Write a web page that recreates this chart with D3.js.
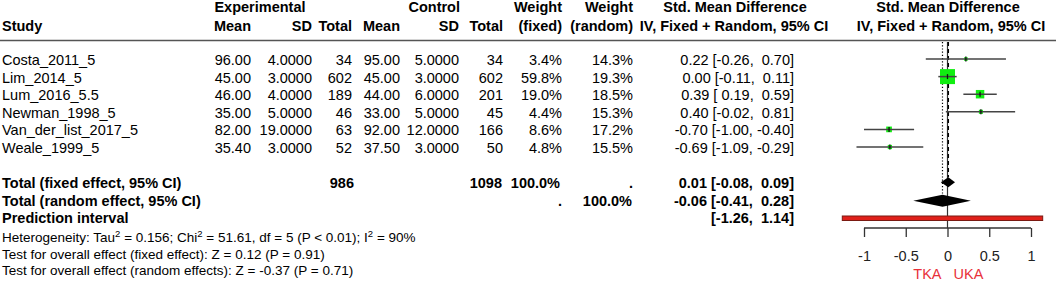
<!DOCTYPE html>
<html>
<head>
<meta charset="utf-8">
<script src="https://cdn.jsdelivr.net/npm/d3@7"></script>
<style>
  body { margin: 0; background: #fff; }
  text { font-family: 'Liberation Sans', Arial, sans-serif; white-space: pre; }
</style>
</head>
<body>
<div id="app"></div>
<script>
'use strict'
const width = 1056
const height = 281

// study rows
const studies = ['Costa_2011_5', 'Lim_2014_5', 'Lum_2016_5.5', 'Newman_1998_5', 'Van_der_list_2017_5', 'Weale_1999_5']
const expMean = [96.00, 45.00, 46.00, 35.00, 82.00, 35.40]
const expSD = [4, 3, 4, 5, 19, 3]
const expN = [34, 602, 189, 46, 63, 52]
const ctlMean = [95.00, 45.00, 44.00, 33.00, 92.00, 37.50]
const ctlSD = [5, 3, 6, 5, 12, 3]
const ctlN = [34, 602, 201, 45, 166, 50]
const weightFixed = [3.4, 59.8, 19.0, 4.4, 8.6, 4.8]
const weightRandom = [14.3, 19.3, 18.5, 15.3, 17.2, 15.5]
const smd = [0.22, 0.00, 0.39, 0.40, -0.70, -0.69]
const lower = [-0.26, -0.11, 0.19, -0.02, -1.00, -1.09]
const upper = [0.70, 0.11, 0.59, 0.81, -0.40, -0.29]

// pooled rows
const pooledLabels = ['Total (fixed effect, 95% CI)', 'Total (random effect, 95% CI)']
const pooledEst = [0.01, -0.06]
const pooledLower = [-0.08, -0.41]
const pooledUpper = [0.09, 0.28]
const totalExpN = 986
const totalCtlN = 1098
const predInterval = [-1.26, 1.14]

const axisTicks = [-1, -0.5, 0, 0.5, 1]
const sideLabels = ['TKA', 'UKA']
const footer = [
  [['Heterogeneity: Tau'], ['2', 'sup'], [' = 0.156; Chi'], ['2', 'sup'], [' = 51.61, df = 5 (P < 0.01); I'], ['2', 'sup'], [' = 90%']],
  [['Test for overall effect (fixed effect): Z = 0.12 (P = 0.91)']],
  [['Test for overall effect (random effects): Z = -0.37 (P = 0.71)']]
]

const svg = d3.select('#app').append('svg')
  .attr('width', width)
  .attr('height', height)

/*
 * Scales
 */
const xScale = d3.scaleLinear().domain([-1, 1]).range([864, 1031])
const rowY = d3.scaleLinear().domain([0, 1]).range([59, 76.6])
const sqSize = d3.scaleSqrt().domain([0, 59.8]).range([0, 15])

// R prints a plain hyphen, not the unicode minus d3 uses
const hy = s => String(s).replace(/\u2212/g, '-')
const f2 = v => hy(d3.format('.2f')(v))
const f4 = v => hy(d3.format('.4f')(v))
const pct = v => d3.format('.1f')(v) + '%'
const pad = (s, n) => s.padStart(n, ' ')
const ciText = (e, l, u) => `${f2(e)} [${pad(f2(l), 5)}, ${pad(f2(u), 5)}]`

const fs = 14.5
const txt = (x, y, s, anchor, bold, size) => svg.append('text')
  .attr('x', x)
  .attr('y', y)
  .attr('text-anchor', anchor || 'start')
  .style('font-size', (size || fs) + 'px')
  .style('font-weight', bold ? 'bold' : 'normal')
  .style('fill', '#000')
  .text(s)

/*
 * Header
 */
txt(260, 12, 'Experimental', 'middle', true)
txt(460, 12, 'Control', 'end', true)
txt(562, 12, 'Weight', 'end', true)
txt(633, 12, 'Weight', 'end', true)
txt(735, 12, 'Std. Mean Difference', 'middle', true)
txt(948, 12, 'Std. Mean Difference', 'middle', true)

txt(2, 31, 'Study', 'start', true)
const subHeads = [[251, 'Mean'], [312, 'SD'], [352, 'Total'], [400, 'Mean'], [459, 'SD'], [503, 'Total'], [562, '(fixed)'], [633, '(random)']]
subHeads.forEach(d => txt(d[0], 31, d[1], 'end', true))
txt(734, 31, 'IV, Fixed + Random, 95% CI', 'middle', true)
txt(951, 31, 'IV, Fixed + Random, 95% CI', 'middle', true)

svg.append('line')
  .attr('x1', 0).attr('x2', width)
  .attr('y1', 40.5).attr('y2', 40.5)
  .style('stroke', '#555')
  .style('stroke-width', 1.5)

/*
 * Study table rows
 */
studies.forEach((s, i) => {
  const y = rowY(i) + 6
  txt(2, y, s)
  txt(251, y, f2(expMean[i]), 'end')
  txt(312, y, f4(expSD[i]), 'end')
  txt(352, y, expN[i], 'end')
  txt(400, y, f2(ctlMean[i]), 'end')
  txt(459, y, f4(ctlSD[i]), 'end')
  txt(503, y, ctlN[i], 'end')
  txt(562, y, pct(weightFixed[i]), 'end')
  txt(633, y, pct(weightRandom[i]), 'end')
  txt(794, y, ciText(smd[i], lower[i], upper[i]), 'end')
})

// pooled rows
pooledLabels.forEach((s, i) => {
  const y = rowY(7 + i) + 6
  txt(2, y, s, 'start', true)
  txt(794, y, ciText(pooledEst[i], pooledLower[i], pooledUpper[i]), 'end', true)
})
txt(354, rowY(7) + 6, totalExpN, 'end', true)
txt(502, rowY(7) + 6, totalCtlN, 'end', true)
txt(560, rowY(7) + 6, '100.0%', 'end', true)
txt(633, rowY(7) + 6, '.', 'end', true)
txt(562, rowY(8) + 6, '.', 'end', true)
txt(632, rowY(8) + 6, '100.0%', 'end', true)

txt(2, rowY(9) + 6, 'Prediction interval', 'start', true)
txt(794, rowY(9) + 6, `[${f2(predInterval[0])}, ${pad(f2(predInterval[1]), 5)}]`, 'end', true)

// footer with superscripts
footer.forEach((parts, k) => {
  const t = svg.append('text')
    .attr('x', 2)
    .attr('y', 242 + k * 16.5)
    .style('font-size', '13.5px')
    .style('fill', '#000')
  let raised = false
  parts.forEach(p => {
    const ts = t.append('tspan').text(p[0])
    if (p[1] === 'sup') {
      ts.attr('dy', -5).style('font-size', '9.5px')
      raised = true
    } else if (raised) {
      ts.attr('dy', 5)
      raised = false
    }
  })
})

/*
 * Forest plot
 */
const plotTop = 42

// null-effect line
svg.append('line')
  .attr('x1', xScale(0)).attr('x2', xScale(0))
  .attr('y1', plotTop).attr('y2', 228)
  .style('stroke', '#333')
  .style('stroke-width', 1.2)

// fixed (dashed) and random (dotted) lines
svg.append('line')
  .attr('x1', xScale(pooledEst[0])).attr('x2', xScale(pooledEst[0]))
  .attr('y1', plotTop).attr('y2', rowY(7) - 5)
  .style('stroke', '#000')
  .style('stroke-width', 1.4)
  .style('stroke-dasharray', '4 3')

svg.append('line')
  .attr('x1', xScale(pooledEst[1])).attr('x2', xScale(pooledEst[1]))
  .attr('y1', plotTop).attr('y2', rowY(8) - 6)
  .style('stroke', '#000')
  .style('stroke-width', 1.2)
  .style('stroke-dasharray', '1.2 2')

// study squares and CIs
const rows = svg.selectAll('.study')
  .data(studies)
  .enter()
  .append('g')
  .attr('class', 'study')

rows.append('rect')
  .attr('x', (d, i) => xScale(smd[i]) - sqSize(weightFixed[i]) / 2)
  .attr('y', (d, i) => rowY(i) - sqSize(weightFixed[i]) / 2)
  .attr('width', (d, i) => sqSize(weightFixed[i]))
  .attr('height', (d, i) => sqSize(weightFixed[i]))
  .style('fill', '#11ee11')

rows.append('line')
  .attr('x1', (d, i) => xScale(lower[i]))
  .attr('x2', (d, i) => xScale(upper[i]))
  .attr('y1', (d, i) => rowY(i))
  .attr('y2', (d, i) => rowY(i))
  .style('stroke', '#444')
  .style('stroke-width', 1.5)

rows.append('line')
  .attr('x1', (d, i) => xScale(smd[i]))
  .attr('x2', (d, i) => xScale(smd[i]))
  .attr('y1', (d, i) => rowY(i) - 2.5)
  .attr('y2', (d, i) => rowY(i) + 2.5)
  .style('stroke', '#111')
  .style('stroke-width', 1.3)

// pooled diamonds
const diaH = [5, 6]
pooledEst.forEach((e, i) => {
  const y = rowY(7 + i) + (i === 1 ? 1 : 0)
  const pts = [
    [xScale(pooledLower[i]), y],
    [xScale(e), y - diaH[i]],
    [xScale(pooledUpper[i]), y],
    [xScale(e), y + diaH[i]]
  ]
  svg.append('path')
    .attr('d', d3.line()(pts) + 'Z')
    .style('fill', '#000')
})

// prediction interval bar
svg.append('rect')
  .attr('x', xScale(predInterval[0]))
  .attr('y', 216)
  .attr('width', xScale(predInterval[1]) - xScale(predInterval[0]))
  .attr('height', 4.5)
  .style('fill', '#e0201a')
  .style('stroke', '#7a1a12')
  .style('stroke-width', 1)

/*
 * X axis
 */
const axis = svg.append('g')
  .attr('transform', 'translate(0, 228)')
  .call(d3.axisBottom(xScale).tickValues(axisTicks).tickSize(9).tickFormat(d => hy(d3.format('')(d))))

axis.select('.domain').style('stroke', '#333').style('stroke-width', 1.3).attr('d', `M${xScale(-1)},0H${xScale(1)}`)
axis.selectAll('.tick line').style('stroke', '#333').style('stroke-width', 1.3)
axis.selectAll('.tick text')
  .attr('y', 33)
  .attr('dy', 0)
  .style('font-family', "'Liberation Sans', Arial, sans-serif")
  .style('font-size', '14.5px')
  .style('fill', '#222')

// direction labels
svg.selectAll('.side')
  .data(sideLabels)
  .enter()
  .append('text')
  .attr('class', 'side')
  .attr('x', (d, i) => i === 0 ? xScale(0) - 6 : xScale(0) + 6)
  .attr('y', 279)
  .attr('text-anchor', (d, i) => i === 0 ? 'end' : 'start')
  .style('font-size', '14.5px')
  .style('fill', '#e8313a')
  .text(d => d)
</script>
</body>
</html>
